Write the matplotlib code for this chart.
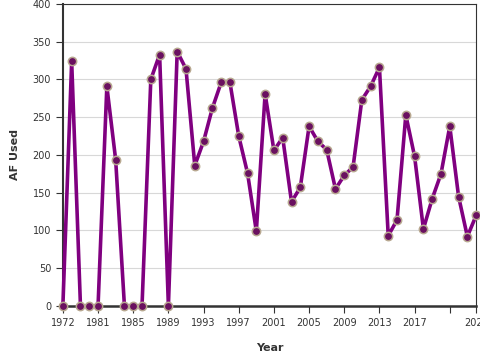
import matplotlib
matplotlib.use('Agg')
import matplotlib.pyplot as plt
import numpy as np

years = list(range(1977, 2025))
af_used = [0, 324, 0, 0, 0, 291, 194, 0, 0, 0,
           300, 333, 0, 337, 314, 186, 218, 262, 296, 296,
           225, 176, 99, 281, 206, 223, 138, 157, 238, 218,
           207, 155, 173, 184, 273, 291, 316, 93, 114, 253,
           198, 102, 142, 175, 238, 145, 92, 120]

tick_pos = [1977, 1981, 1985, 1989, 1993, 1997, 2001, 2005, 2009, 2013, 2017, 2021, 2024]
tick_lab = ['1972', '1981', '1985', '1989', '1993', '1997', '2001', '2005', '2009',
            '2013', '2017', '', '2024']

plt.rcParams['font.family'] = 'DejaVu Sans'

fig = plt.figure(figsize=(4.8, 3.6), dpi=100)
ax = fig.add_axes([0.131, 0.15, 0.861, 0.839])

ax.plot(years, af_used, color='#800080', lw=2.6, marker='o', ms=6,
        mfc='#6a1060', mec='#b8a890', mew=1.1, zorder=3, clip_on=False)

ax.set_xlim(1977, 2024)
ax.set_ylim(0, 400)
ax.set_yticks(np.arange(0, 401, 50))
ax.set_xticks(tick_pos)
ax.set_xticklabels(tick_lab)
ax.yaxis.grid(True, color='#d8d8d8', lw=0.8)
ax.set_axisbelow(True)

for s in ax.spines.values():
    s.set_color('#333333')
    s.set_linewidth(0.8)
ax.spines['left'].set_linewidth(1.5)
ax.spines['bottom'].set_linewidth(1.8)

ax.tick_params(labelsize=7, colors='#333333', length=5, width=0.8)
ax.set_ylabel('AF Used', fontsize=8, fontweight='bold', color='#333333', labelpad=9)
ax.set_xlabel('Year', fontsize=8, fontweight='bold', color='#333333', labelpad=11)

fig.savefig('out.png', dpi=100)
